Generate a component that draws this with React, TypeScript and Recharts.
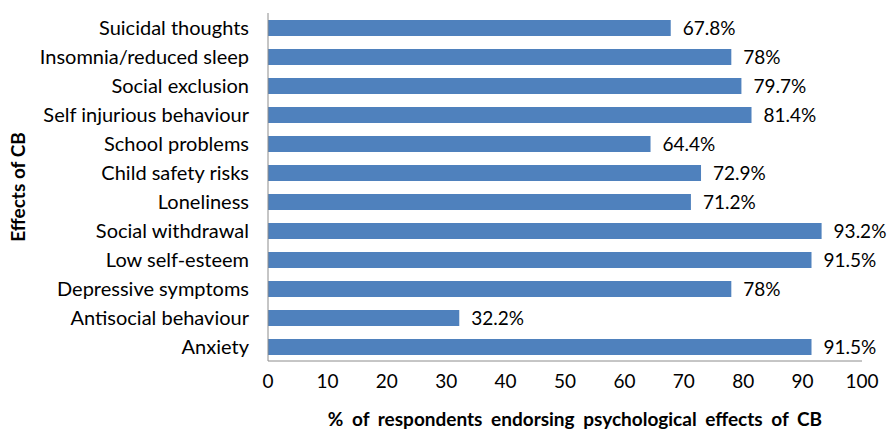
import { BarChart, Bar, XAxis, YAxis, LabelList } from 'recharts'

// effects listed top to bottom
const EFFECTS = [
  'Suicidal thoughts',
  'Insomnia/reduced sleep',
  'Social exclusion',
  'Self injurious behaviour',
  'School problems',
  'Child safety risks',
  'Loneliness',
  'Social withdrawal',
  'Low self-esteem',
  'Depressive symptoms',
  'Antisocial behaviour',
  'Anxiety',
]
const PERCENTS = [67.8, 78, 79.7, 81.4, 64.4, 72.9, 71.2, 93.2, 91.5, 78, 32.2, 91.5]
const X_TICKS = [0, 10, 20, 30, 40, 50, 60, 70, 80, 90, 100]

const data = EFFECTS.map((name, i) => ({ name, value: PERCENTS[i] }))

const FONT = 'Lato, "Open Sans", sans-serif'
const AXIS_COLOR = '#8c8c8c'

export default function App() {
  return (
    <div style={{ position: 'absolute', top: 0, left: 0, width: 887, height: 430, background: '#fff', fontFamily: FONT }}>
      <BarChart
        width={887}
        height={430}
        data={data}
        layout="vertical"
        barCategoryGap="45%"
        margin={{ top: 13, right: 25, bottom: 0, left: 0 }}
      >
        <XAxis
          type="number"
          domain={[0, 100]}
          ticks={X_TICKS}
          interval={0}
          height={69}
          tickLine={false}
          tickSize={0}
          tickMargin={14}
          stroke={AXIS_COLOR}
          tick={{ fontSize: 19, fill: '#000', fontFamily: FONT }}
          label={{
            value: '% of respondents endorsing psychological effects of CB',
            position: 'insideBottom',
            offset: 4,
            dx: 10,
            style: { fontSize: 19, fontWeight: 700, fill: '#000', fontFamily: FONT, wordSpacing: 4 },
          }}
        />
        <YAxis
          type="category"
          dataKey="name"
          width={268}
          tickLine={false}
          tickSize={0}
          tickMargin={19}
          interval={0}
          stroke={AXIS_COLOR}
          tick={{ fontSize: 20, fill: '#000', fontFamily: FONT }}
          label={{
            value: 'Effects of CB',
            angle: -90,
            position: 'insideLeft',
            offset: 18,
            style: { fontSize: 19, fontWeight: 700, fill: '#000', fontFamily: FONT, textAnchor: 'middle' },
          }}
        />
        <Bar dataKey="value" fill="#4f81bd" barSize={16} isAnimationActive={false}>
          <LabelList
            dataKey="value"
            position="right"
            offset={12}
            formatter={(v: number) => `${v}%`}
            style={{ fontSize: 19, fill: '#000', fontFamily: FONT }}
          />
        </Bar>
      </BarChart>
    </div>
  )
}
